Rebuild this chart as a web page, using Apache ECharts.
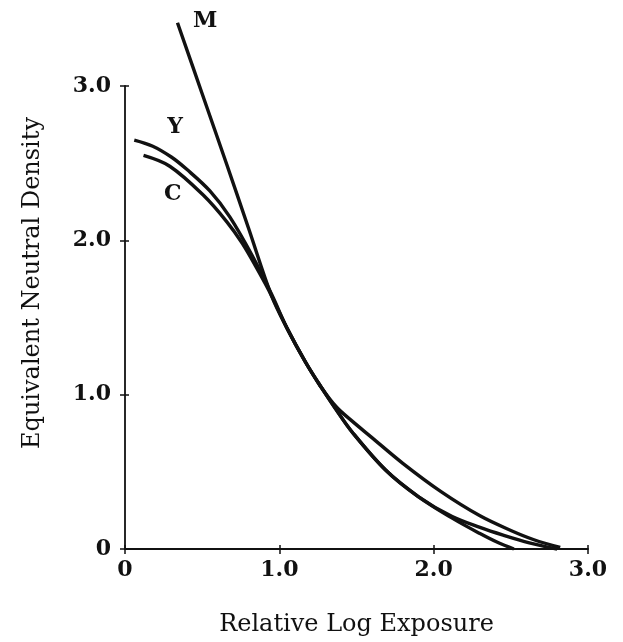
<!DOCTYPE html>
<html>
<head>
<meta charset="utf-8">
<script src="https://cdn.jsdelivr.net/npm/echarts@6/dist/echarts.min.js"></script>
<style>
  html, body { margin: 0; padding: 0; background: #fff; }
  #chart { width: 623px; height: 642px; }
</style>
</head>
<body>
<div id="chart"></div>
<script>
// Tick labels for both axes
const xTickLabels = ['0', '1.0', '2.0', '3.0'];
const yTickLabels = ['0', '1.0', '2.0', '3.0'];

// Magenta-layer curve (M)
const mExposure = [0.34, 0.50, 0.66, 0.80, 0.95, 1.05, 1.17, 1.27, 1.37, 1.47, 1.69, 1.90, 2.12, 2.30, 2.42, 2.52];
const mDensity  = [3.41, 2.95, 2.49, 2.08, 1.64, 1.43, 1.21, 1.05, 0.90, 0.76, 0.51, 0.34, 0.20, 0.10, 0.04, 0.00];

// Yellow-layer curve (Y)
const yExposure = [0.06, 0.18, 0.30, 0.40, 0.55, 0.68, 0.83, 0.95, 1.05, 1.17, 1.27, 1.37, 1.47, 1.59, 1.80, 2.05, 2.30, 2.50, 2.65, 2.82];
const yDensity  = [2.65, 2.61, 2.54, 2.46, 2.32, 2.15, 1.89, 1.65, 1.43, 1.21, 1.05, 0.92, 0.83, 0.73, 0.555, 0.37, 0.215, 0.12, 0.06, 0.01];

// Cyan-layer curve (C)
const cExposure = [0.12, 0.29, 0.51, 0.66, 0.76, 0.87, 0.95, 1.05, 1.17, 1.27, 1.37, 1.47, 1.69, 1.90, 2.12, 2.30, 2.45, 2.62, 2.80];
const cDensity  = [2.55, 2.48, 2.29, 2.12, 1.98, 1.79, 1.64, 1.43, 1.21, 1.05, 0.90, 0.76, 0.51, 0.34, 0.21, 0.14, 0.09, 0.04, 0.00];

// Curve names and where each name sits (data units)
const curveNames = ['M', 'Y', 'C'];
const nameExposure = [0.52, 0.325, 0.31];
const nameDensity  = [3.42, 2.73, 2.30];

const INK = '#111';
const tickFont = { color: INK, fontFamily: 'DejaVu Serif', fontWeight: 'bold', fontSize: 22 };

function pairs(xs, ys) { return xs.map((x, i) => [x, ys[i]]); }
function fmt(labels) { return v => labels[Math.round(v)] ?? ''; }

function curve(name, xs, ys) {
  return {
    name, type: 'line', data: pairs(xs, ys), smooth: 0.35,
    showSymbol: false, clip: false, xAxisIndex: 0, yAxisIndex: 0,
    lineStyle: { color: INK, width: 3.4 }, z: 3
  };
}

const axisBase = { min: 0, max: 3, interval: 1, splitLine: { show: false } };

const chart = echarts.init(document.getElementById('chart'), null, { renderer: 'canvas' });
chart.setOption({
  animation: false,
  backgroundColor: '#fff',
  grid: { left: 125, right: 35, top: 86, bottom: 93, containLabel: false },
  xAxis: [
    Object.assign({}, axisBase, {
      type: 'value', position: 'bottom',
      axisLine: { show: true, lineStyle: { color: INK, width: 1.8 } },
      axisTick: { show: true, inside: false, length: 5, lineStyle: { color: INK, width: 1.5 } },
      axisLabel: Object.assign({ margin: 10, formatter: fmt(xTickLabels) }, tickFont),
      name: 'Relative Log Exposure', nameLocation: 'middle', nameGap: 64,
      nameTextStyle: { color: INK, fontFamily: 'DejaVu Serif', fontSize: 24 }
    }),
    Object.assign({}, axisBase, {
      type: 'value', position: 'bottom',
      axisLine: { show: false },
      axisTick: { show: true, inside: true, length: 4, lineStyle: { color: INK, width: 1.5 } },
      axisLabel: { show: false }
    })
  ],
  yAxis: [
    Object.assign({}, axisBase, {
      type: 'value', position: 'left',
      axisLine: { show: true, lineStyle: { color: INK, width: 1.8 } },
      axisTick: { show: true, inside: false, length: 5, lineStyle: { color: INK, width: 1.5 } },
      axisLabel: Object.assign({ margin: 14, formatter: fmt(yTickLabels) }, tickFont)
    }),
    Object.assign({}, axisBase, {
      type: 'value', position: 'left',
      axisLine: { show: false },
      axisTick: { show: true, inside: true, length: 4, lineStyle: { color: INK, width: 1.5 } },
      axisLabel: { show: false }
    })
  ],
  graphic: [{
    type: 'text', x: 33, y: 283, rotation: Math.PI / 2,
    style: {
      text: 'Equivalent Neutral Density', fill: INK,
      font: '24px "DejaVu Serif"',
      textAlign: 'center', textVerticalAlign: 'middle',
      align: 'center', verticalAlign: 'middle'
    }
  }],
  series: [
    curve('M', mExposure, mDensity),
    curve('Y', yExposure, yDensity),
    curve('C', cExposure, cDensity),
    {
      type: 'scatter', symbolSize: 0, clip: false, z: 4,
      itemStyle: { opacity: 1, color: INK },
      data: curveNames.map((n, i) => ({ value: [nameExposure[i], nameDensity[i]], name: n })),
      label: {
        show: true, position: 'inside', formatter: p => p.name, opacity: 1,
        color: INK, fontFamily: 'DejaVu Serif', fontWeight: 'bold', fontSize: 22
      }
    }
  ]
});
</script>
</body>
</html>
